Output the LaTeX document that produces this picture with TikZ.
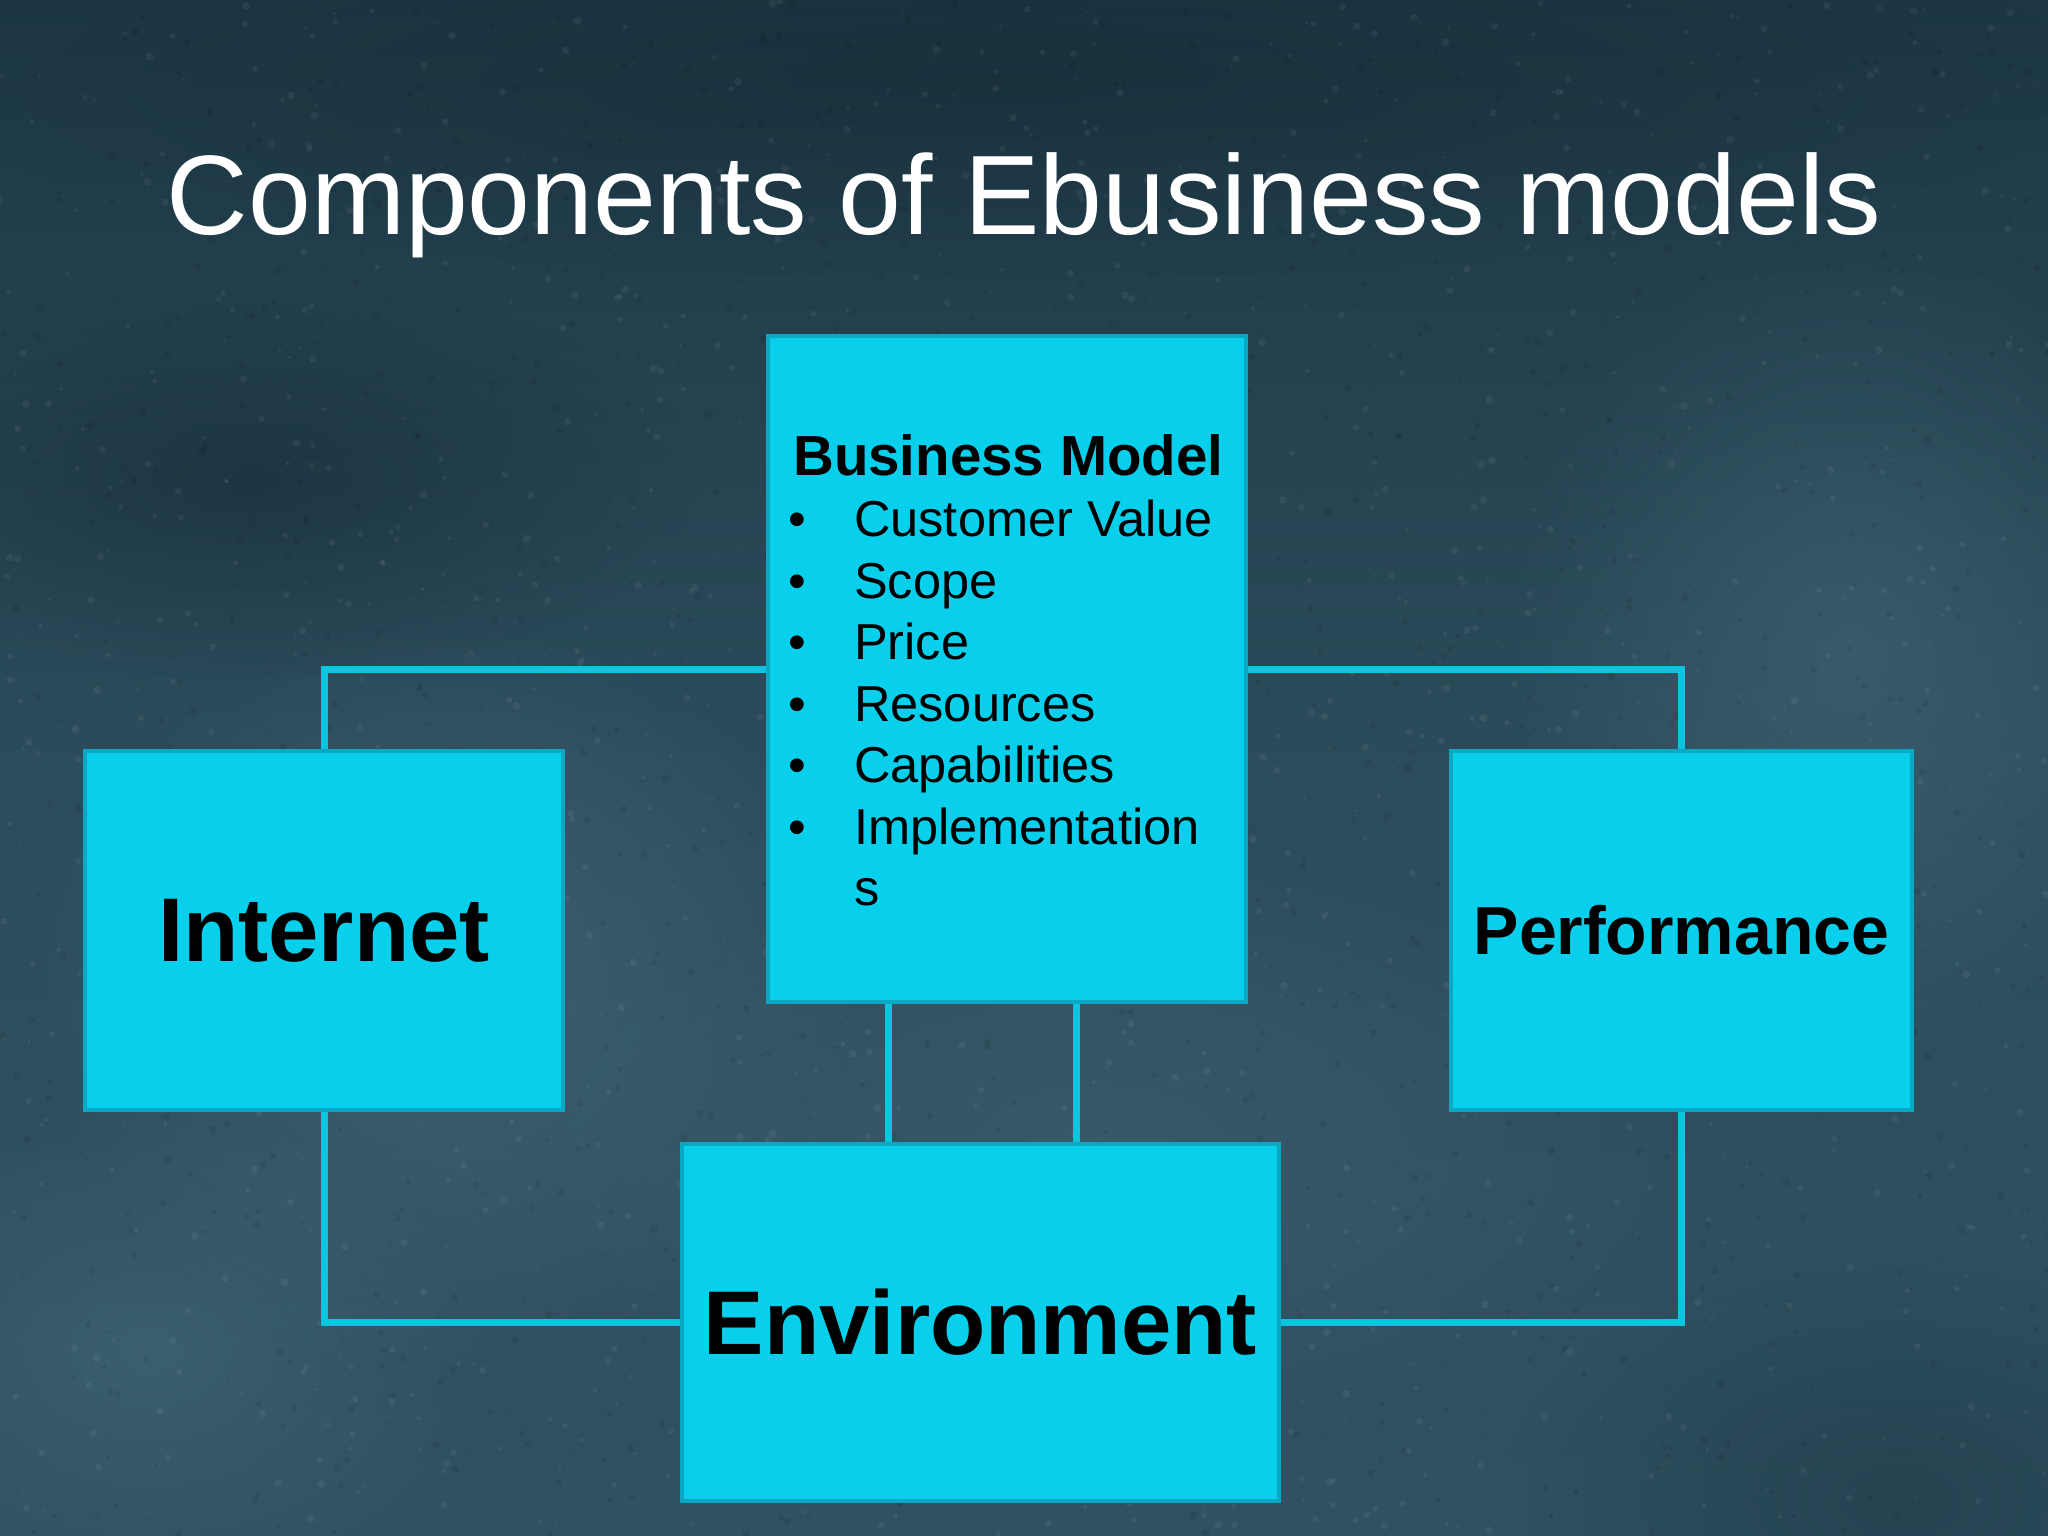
\documentclass[tikz,border=0pt]{standalone}
\usepackage{fontspec}
\setmainfont{Liberation Sans}
\usetikzlibrary{fadings}
\definecolor{bgtop}{HTML}{1D3744}
\definecolor{bgmid}{HTML}{2C4C5B}
\definecolor{bgbot}{HTML}{2F5161}
\definecolor{blobL}{HTML}{4A7282}
\definecolor{blobD}{HTML}{142833}
\definecolor{boxfill}{HTML}{08CFEB}
\definecolor{boxedge}{HTML}{0AA8C2}
\definecolor{linec}{HTML}{0BC4E0}
\tikzfading[name=softdisc, inner color=transparent!0, outer color=transparent!100]
\pgfdeclarelayer{backdrop}
\pgfdeclarelayer{wires}
\pgfsetlayers{backdrop,wires,main}
\tikzset{
  x=1pt, y=-1pt,
  compbox/.style={draw=boxedge, line width=4pt, fill=boxfill, inner sep=0pt, anchor=center},
  conn/.style={draw=linec, line width=7pt},
  bigtxt/.style={font=\bfseries\fontsize{90.5}{100}\selectfont, text=black},
  itemtxt/.style={font=\fontsize{50.5}{60}\selectfont, text=black, anchor=base west, inner sep=0pt},
}
\begin{document}
\begin{tikzpicture}
\useasboundingbox (0,0) rectangle (2048,1536);
\begin{pgfonlayer}{backdrop}
\shade[top color=bgtop, bottom color=bgbot, middle color=bgmid] (0,0) rectangle (2048,1536);
\fill[blobL, path fading=softdisc, opacity=0.55] (450,1000) ellipse (420 and 380);
\fill[blobL, path fading=softdisc, opacity=0.45] (1850,650) ellipse (350 and 420);
\fill[blobL, path fading=softdisc, opacity=0.45] (150,1350) ellipse (350 and 250);
\fill[blobL, path fading=softdisc, opacity=0.35] (1100,1150) ellipse (600 and 300);
\fill[blobD, path fading=softdisc, opacity=0.5] (250,480) ellipse (450 and 200);
\fill[blobD, path fading=softdisc, opacity=0.45] (1000,80) ellipse (1100 and 200);
\fill[blobD, path fading=softdisc, opacity=0.35] (1900,1500) ellipse (400 and 250);
\pgfmathsetseed{7}
\foreach \k in {1,...,1400}{
  \pgfmathsetmacro{\px}{2048*rnd}
  \pgfmathsetmacro{\py}{1536*rnd}
  \pgfmathsetmacro{\pr}{1+3*rnd}
  \fill[white, opacity=0.06] (\px,\py) circle (\pr);
}
\foreach \k in {1,...,1400}{
  \pgfmathsetmacro{\px}{2048*rnd}
  \pgfmathsetmacro{\py}{1536*rnd}
  \pgfmathsetmacro{\pr}{1+3*rnd}
  \fill[black, opacity=0.08] (\px,\py) circle (\pr);
}
\end{pgfonlayer}
% title
\node[font=\fontsize{113}{130}\selectfont, text=white, anchor=base, inner sep=0pt] (title) at (1024,234) {Components of Ebusiness models};
% boxes
\node[compbox, minimum width=478pt, minimum height=666pt] (bm) at (1007,669) {};
\node[compbox, minimum width=478pt, minimum height=359pt] (inet) at (324,930.5) {};
\node[compbox, minimum width=461pt, minimum height=359pt] (perf) at (1681.5,930.5) {};
\node[compbox, minimum width=597pt, minimum height=357pt] (env) at (980.5,1322.5) {};
% connectors (behind boxes)
\coordinate (c1) at (888,0);
\coordinate (c2) at (1076,0);
\begin{pgfonlayer}{wires}
\draw[conn] (inet.north) |- (bm.west);
\draw[conn] (perf.north) |- (bm.east);
\draw[conn] (inet.south) |- (env.west);
\draw[conn] (perf.south) |- (env.east);
\draw[conn] (bm.south -| c1) -- (env.north -| c1);
\draw[conn] (bm.south -| c2) -- (env.north -| c2);
\end{pgfonlayer}
% texts
\node[bigtxt] (tinet) at (inet.center) {Internet};
\node[bigtxt, font=\bfseries\fontsize{68}{80}\selectfont] (tperf) at (perf.center) {Performance};
\node[bigtxt] (tenv) at (env.center) {Environment};
\node[itemtxt, font=\bfseries\fontsize{56.5}{66}\selectfont] (bmh) at (793,475) {Business Model};
\foreach \t [count=\i] in {Customer Value, Scope, Price, Resources, Capabilities, Implementation, s}{
  \pgfmathsetmacro{\yy}{475+61.5*\i}
  \node[itemtxt] (it\i) at (854,\yy) {\t};
}
\foreach \i in {1,...,6}{
  \pgfmathsetmacro{\yy}{475+61.5*\i}
  \node[itemtxt] (bu\i) at (788,\yy) {•};
}
\end{tikzpicture}
\end{document}
